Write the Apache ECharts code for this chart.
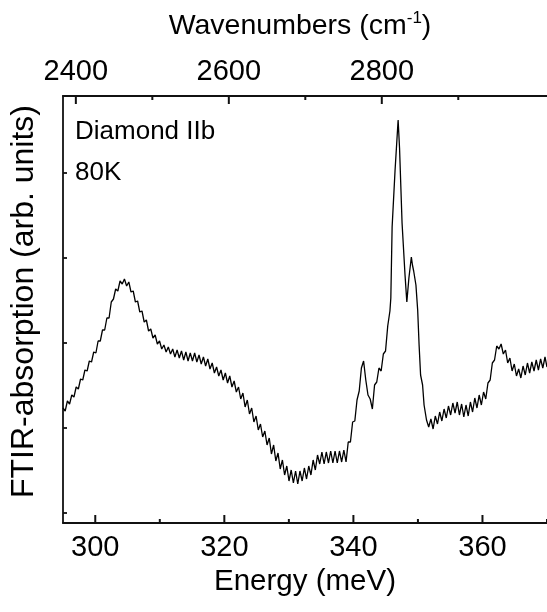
<!DOCTYPE html>
<html><head><meta charset="utf-8">
<script src="https://cdn.jsdelivr.net/npm/echarts@6/dist/echarts.min.js"></script>
<style>html,body{margin:0;padding:0;background:#fff}#c{width:547px;height:612px}</style>
</head><body><div id="c"></div>
<script>
// Energy (meV)
const energy = [
295.00,295.34,295.68,296.02,296.36,296.70,297.04,297.38,297.72,298.06,
298.40,298.74,299.08,299.42,299.76,300.10,300.44,300.78,301.12,301.46,
301.80,302.14,302.48,302.82,303.16,303.50,303.84,304.18,304.52,304.86,
305.20,305.54,305.88,306.22,306.56,306.90,307.24,307.58,307.92,308.26,
308.60,308.94,309.28,309.62,309.96,310.30,310.64,310.98,311.32,311.66,
312.00,312.34,312.68,313.02,313.36,313.70,314.04,314.38,314.72,315.06,
315.40,315.74,316.08,316.42,316.76,317.10,317.44,317.78,318.12,318.46,
318.80,319.14,319.48,319.82,320.16,320.50,320.84,321.18,321.52,321.86,
322.20,322.54,322.88,323.22,323.56,323.90,324.24,324.58,324.92,325.26,
325.60,325.94,326.28,326.62,326.96,327.30,327.64,327.98,328.32,328.66,
329.00,329.34,329.68,330.02,330.36,330.70,331.04,331.38,331.72,332.06,
332.40,332.74,333.08,333.42,333.76,334.10,334.44,334.78,335.12,335.46,
335.80,336.14,336.48,336.82,337.16,337.50,337.84,338.18,338.52,338.86,
339.20,339.54,339.88,340.22,340.56,340.90,341.24,341.58,341.92,342.26,
342.60,342.94,343.28,343.62,343.96,344.30,344.64,344.98,345.32,345.66,
345.80,346.00,346.45,346.93,347.15,347.54,348.00,348.28,348.60,348.98,
349.15,349.34,349.69,349.96,350.18,350.41,350.72,350.95,351.33,
351.67,352.01,352.35,352.69,353.03,353.37,353.71,354.05,354.39,354.73,
355.07,355.41,355.75,356.09,356.43,356.77,357.11,357.45,357.79,358.13,
358.47,358.81,359.15,359.49,359.83,360.17,360.51,360.85,361.19,361.53,
361.87,362.21,362.55,362.89,363.23,363.57,363.91,364.25,364.59,364.93,
365.27,365.61,365.95,366.29,366.63,366.97,367.31,367.65,367.99,368.33,
368.67,369.01,369.35,369.69,370.00
];
// FTIR absorption (arb. units)
const absorb = [
115,112,122,119,128,126,136,134,144,143,
153,152,162,161,171,170,182,182,193,193,
205,205,221,224,234,232,242,239,244,237,
241,231,232,221,222,211,212,201,203,192,
194,185,188,179,182,174,178,171,176,169,
174,166,173,165,172,163,171,162,170,162,
170,161,168,159,166,157,164,154,160,150,
156,147,153,143,150,140,147,136,142,131,
136,124,130,116,123,109,115,101,107,93,
99,86,92,78,85,69,78,62,70,54,
63,48,57,42,53,40,52,39,52,42,
55,44,57,48,63,53,68,59,71,59,
71,60,72,60,72,60,72,61,73,61,
81,81,101,102,123,132,155,162,143,128,
124,114,138,141,155,152,169,172,197,212,
225,296,352,403,375,300,248,221,245,266,
258,252,238,213,178,148,138,118,103,
96,104,94,107,99,111,102,114,105,117,
108,120,110,121,108,119,106,118,107,121,
111,125,115,128,118,131,124,140,143,160,
163,177,174,179,169,173,160,165,152,159,
147,154,145,157,148,160,150,161,152,163,
153,164,155,166,156
];
const bottomMajor = [300, 320, 340, 360];
const bottomMinor = [310, 330, 350, 370];
const topMajor = [2400, 2600, 2800];
const topMinor = [2500, 2700, 2900];
const yTicks = [10, 95, 180, 265, 350];

const FONT = "'Liberation Sans', Arial, sans-serif";
const AX = '#111';
const chart = echarts.init(document.getElementById('c'), null, {renderer: 'canvas'});
const seriesData = energy.map((e, i) => [e, absorb[i]]);

function tickSeries(xIdx, values, len, side) {
  return {
    type: 'custom', coordinateSystem: 'cartesian2d', xAxisIndex: xIdx, yAxisIndex: 0,
    silent: true, clip: false, z: 5,
    data: values.map(v => [v, 200]),
    encode: {x: 0, y: 1},
    renderItem: function (params, api) {
      const cs = params.coordSys;
      const x = api.coord([api.value(0), api.value(1)])[0];
      const y0 = side === 'bottom' ? cs.y + cs.height : cs.y;
      const y1 = side === 'bottom' ? y0 - len : y0 + len;
      return {type: 'line', shape: {x1: x, y1: y0, x2: x, y2: y1},
        style: {stroke: AX, lineWidth: 2}};
    }
  };
}

chart.setOption({
  animation: false,
  backgroundColor: '#fff',
  grid: {left: 61, top: 96, width: 489, height: 427, containLabel: false},
  xAxis: [
    {
      type: 'value', position: 'bottom', min: 295, max: 370,
      axisLine: {show: true, onZero: false, lineStyle: {color: AX, width: 1.8}},
      axisTick: {show: false},
      axisLabel: {show: true, customValues: bottomMajor, margin: 10, fontSize: 29, color: '#000', fontFamily: FONT,
        formatter: v => String(v)},
      splitLine: {show: false},
      name: 'Energy (meV)', nameLocation: 'middle', nameGap: 43,
      nameTextStyle: {fontSize: 29.5, color: '#000', fontFamily: FONT}
    },
    {
      type: 'value', position: 'top', min: 2383.2, max: 3016,
      axisLine: {show: true, onZero: false, lineStyle: {color: AX, width: 1.8}},
      axisTick: {show: false},
      axisLabel: {show: true, customValues: topMajor, margin: 10, fontSize: 29, color: '#000', fontFamily: FONT,
        formatter: v => String(v)},
      splitLine: {show: false},
      name: 'Wavenumbers (cm{sup|-1})', nameLocation: 'middle', nameGap: 53,
      nameTextStyle: {fontSize: 28.5, color: '#000', fontFamily: FONT, padding: [0, 10, 0, 0],
        rich: {sup: {fontSize: 17, color: '#000', fontFamily: FONT, padding: [0, 0, 16, 0]}}}
    }
  ],
  yAxis: [
    {
      type: 'value', position: 'left', min: 0, max: 427,
      axisLine: {show: true, onZero: false, lineStyle: {color: AX, width: 1.8}},
      axisTick: {show: true, inside: true, length: 4, customValues: yTicks, lineStyle: {color: AX, width: 1.8}},
      axisLabel: {show: false}, splitLine: {show: false},
      name: 'FTIR-absorption (arb. units)', nameLocation: 'middle', nameGap: 23, nameRotate: 90,
      nameTextStyle: {fontSize: 32, color: '#000', fontFamily: FONT, padding: [0, 0, 0, 16]}
    }
  ],
  graphic: [
    {type: 'text', left: 75, top: 119, style: {text: 'Diamond IIb', font: '26px ' + FONT, fill: '#000'}},
    {type: 'text', left: 75, top: 160, style: {text: '80K', font: '26px ' + FONT, fill: '#000'}}
  ],
  series: [
    {
      type: 'line', xAxisIndex: 0, yAxisIndex: 0, data: seriesData,
      showSymbol: false, symbol: 'none', smooth: false, clip: true,
      lineStyle: {color: '#000', width: 1.3}
    },
    tickSeries(0, bottomMajor, 8, 'bottom'),
    tickSeries(0, bottomMinor, 4, 'bottom'),
    tickSeries(1, topMajor, 8, 'top'),
    tickSeries(1, topMinor, 4, 'top')
  ]
});
</script>
</body></html>
